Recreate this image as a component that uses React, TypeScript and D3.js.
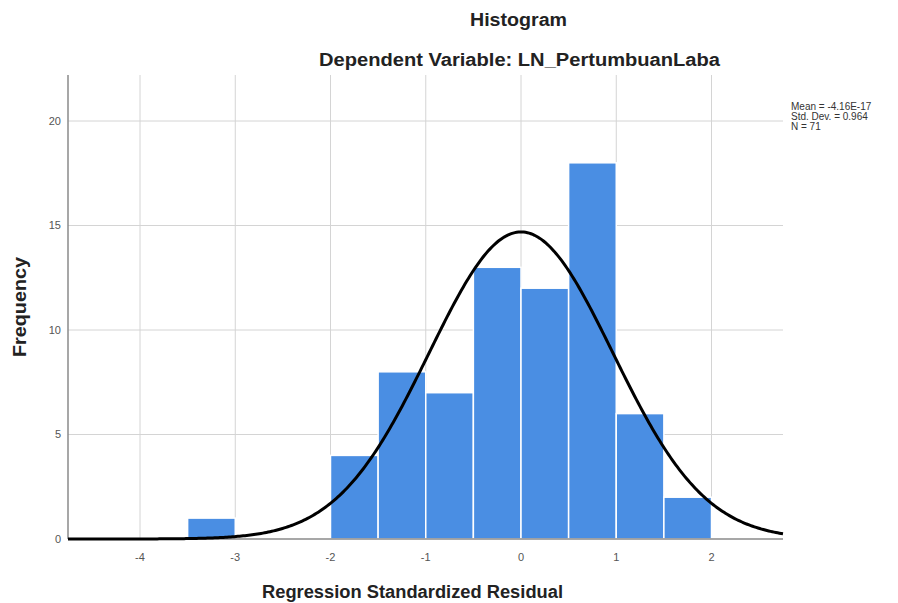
import React from "react";
import * as d3 from "d3";

const binStarts = [-3.5, -3.0, -2.5, -2.0, -1.5, -1.0, -0.5, 0.0, 0.5, 1.0, 1.5];
const counts = [1, 0, 0, 4, 8, 7, 13, 12, 18, 6, 2];
const binWidth = 0.5;
const xTicks = [-4, -3, -2, -1, 0, 1, 2];
const yTicks = [0, 5, 10, 15, 20];
const statsLines = ["Mean = -4.16E-17", "Std. Dev. = 0.964", "N = 71"];
const mean = -4.16e-17;
const sd = 0.964;
const n = 71;

export default function App() {
  const W = 898, H = 603;
  const left = 68, right = 783, top = 75, bottom = 539;
  const x = d3.scaleLinear().domain([-4, 2]).range([140, 711.5]);
  const xMin = x.invert(left), xMax = x.invert(right);
  const y = d3.scaleLinear().domain([0, 20]).range([bottom, 121]);

  const pts = d3.range(0, 401).map((i) => {
    const v = xMin + ((xMax - xMin) * i) / 400;
    const z = (v - mean) / sd;
    const f = (n * binWidth) / (sd * Math.sqrt(2 * Math.PI)) * Math.exp(-0.5 * z * z);
    return [v, f] as [number, number];
  });
  const line = d3.line<[number, number]>().x((d) => x(d[0])).y((d) => y(d[1])).curve(d3.curveLinear);

  const font = "'Liberation Sans', Arial, sans-serif";
  return (
    <svg width={W} height={H} style={{ position: "absolute", left: 0, top: 0, background: "#fff" }} fontFamily={font}>
      <rect x={0} y={0} width={W} height={H} fill="#fff" />
      {/* gridlines */}
      {xTicks.map((t) => (
        <line key={"gx" + t} x1={x(t)} x2={x(t)} y1={top} y2={bottom} stroke="#d4d4d4" strokeWidth={1} />
      ))}
      {yTicks.filter((t) => t > 0).map((t) => (
        <line key={"gy" + t} x1={left} x2={right} y1={y(t)} y2={y(t)} stroke="#d4d4d4" strokeWidth={1} />
      ))}
      {/* bars */}
      {binStarts.map((s, i) =>
        counts[i] > 0 ? (
          <rect
            key={"b" + i}
            x={x(s)}
            y={y(counts[i])}
            width={x(s + binWidth) - x(s)}
            height={y(0) - y(counts[i])}
            fill="#4a8ee3"
            stroke="#ffffff"
            strokeWidth={1.5}
          />
        ) : null
      )}
      {/* axes */}
      <line x1={left} x2={left} y1={top} y2={bottom} stroke="#8a8a8a" strokeWidth={1.5} />
      <line x1={left} x2={right} y1={bottom} y2={bottom} stroke="#8a8a8a" strokeWidth={1.5} />
      {/* normal curve */}
      <path d={line(pts) || ""} fill="none" stroke="#000" strokeWidth={3} />
      {/* tick labels */}
      {yTicks.map((t) => (
        <text key={"yt" + t} x={61} y={y(t)} dy="0.35em" textAnchor="end" fontSize={11} fill="#555">
          {t}
        </text>
      ))}
      {xTicks.map((t) => (
        <text key={"xt" + t} x={x(t)} y={557} dy="0.35em" textAnchor="middle" fontSize={11} fill="#555">
          {t}
        </text>
      ))}
      {/* titles */}
      <text x={470} y={26} fontSize={18} fontWeight="bold" fill="#222" textLength={97} lengthAdjust="spacingAndGlyphs">Histogram</text>
      <text x={319} y={66} fontSize={18} fontWeight="bold" fill="#222" textLength={401} lengthAdjust="spacingAndGlyphs">Dependent Variable: LN_PertumbuanLaba</text>
      <text x={262} y={598} fontSize={18} fontWeight="bold" fill="#222" textLength={301} lengthAdjust="spacingAndGlyphs">Regression Standardized Residual</text>
      <text transform={`translate(26,357) rotate(-90)`} fontSize={18} fontWeight="bold" fill="#222" textLength={100} lengthAdjust="spacingAndGlyphs">Frequency</text>
      {/* stats */}
      {statsLines.map((s, i) => (
        <text key={"s" + i} x={791} y={110 + i * 10} fontSize={10} fill="#333">{s}</text>
      ))}
    </svg>
  );
}
